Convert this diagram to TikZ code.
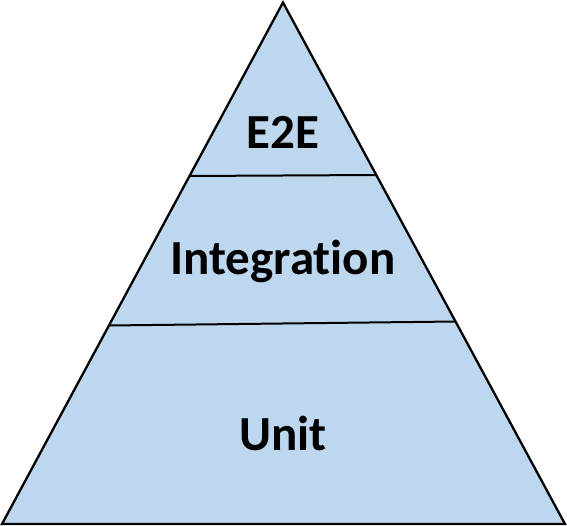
\documentclass[tikz,border=0pt]{standalone}
\usepackage{fontspec}
\setmainfont{Carlito}[Ligatures={NoCommon}]
\usepackage{tikz}
\usetikzlibrary{calc}
\definecolor{layerblue}{HTML}{BDD7EE}

\begin{document}
\begin{tikzpicture}[x=1pt, y=-1pt,
  edge/.style={draw=black, line width=2.3pt, line join=miter},
  divider/.style={draw=black, line width=2pt},
  layer/.style={font=\fontsize{49}{53}\selectfont\bfseries, anchor=base, inner sep=0pt}]
  \useasboundingbox (0,0) rectangle (567,526);
  \coordinate (apex) at (283,2.5);
  \coordinate (baseL) at (2,524);
  \coordinate (baseR) at (565,524);
  \filldraw[edge, fill=layerblue] (apex) -- (baseR) -- (baseL) -- cycle;
  % layer borders
  \coordinate (topL) at (189.5,176);
  \coordinate (topR) at (377,175);
  \coordinate (midL) at (109,325.5);
  \coordinate (midR) at (456,321.5);
  \draw[divider] (topL) -- (topR);
  \draw[divider] (midL) -- (midR);
  \node[layer] (e2e) at (283,149) {E2E};
  \node[layer] (integration) at (283,275) {Integration};
  \node[layer] (unit) at (283,450) {Unit};
\end{tikzpicture}
\end{document}
